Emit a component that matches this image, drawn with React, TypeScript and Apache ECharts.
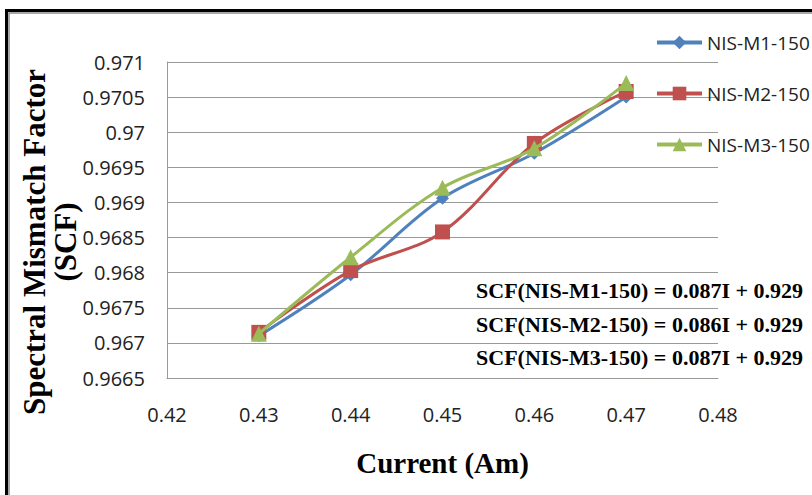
import React, { useEffect, useRef } from "react";
import * as echarts from "echarts";

const currents = [0.43, 0.44, 0.45, 0.46, 0.47];
const scfM1 = [0.9671, 0.96797, 0.96906, 0.9697, 0.9705];
const scfM2 = [0.96715, 0.96803, 0.96858, 0.96984, 0.97058];
const scfM3 = [0.96713, 0.96822, 0.96921, 0.96977, 0.9707];
const seriesNames = ["NIS-M1-150", "NIS-M2-150", "NIS-M3-150"];
const equations = [
  "SCF(NIS-M1-150) = 0.087I + 0.929",
  "SCF(NIS-M2-150) = 0.086I + 0.929",
  "SCF(NIS-M3-150) = 0.087I + 0.929",
];
const yTitle = "Spectral Mismatch Factor\n(SCF)";
const xTitle = "Current (Am)";

const colors = ["#4F81BD", "#C0504D", "#9BBB59"];
const symbols = ["diamond", "rect", "triangle"];
const symbolSizes = [13, 15, 16];

export default function App() {
  const ref = useRef<HTMLDivElement>(null);
  useEffect(() => {
    if (!ref.current) return;
    const chart = echarts.init(ref.current, undefined, { renderer: "svg" });
    const values = [scfM1, scfM2, scfM3];
    const eqY = [290, 324, 357];
    chart.setOption({
      animation: false,
      backgroundColor: "#ffffff",
      grid: { left: 167, right: 94, top: 62, bottom: 117, containLabel: false },
      legend: {
        orient: "vertical",
        left: 655,
        top: 33,
        padding: 0,
        itemWidth: 45,
        itemHeight: 17,
        itemGap: 32,
        lineStyle: { width: 4 },
        textStyle: { fontFamily: "Open Sans", fontSize: 19, color: "#222" },
        data: seriesNames,
      },
      xAxis: {
        type: "value",
        min: 0.42,
        max: 0.48,
        interval: 0.01,
        name: xTitle,
        nameLocation: "middle",
        nameGap: 70,
        nameTextStyle: {
          fontFamily: "Liberation Serif",
          fontWeight: "bold",
          fontSize: 29,
          color: "#000",
        },
        axisLine: { show: true, lineStyle: { color: "#999", width: 1 } },
        axisTick: { show: false },
        splitLine: { show: false },
        axisLabel: {
          margin: 26,
          fontFamily: "Open Sans",
          fontSize: 20,
          color: "#222",
          formatter: (v: number) => v.toFixed(2),
        },
      },
      yAxis: {
        type: "value",
        min: 0.9665,
        max: 0.971,
        interval: 0.0005,
        axisLine: { show: true, lineStyle: { color: "#999", width: 1 } },
        axisTick: { show: false },
        splitLine: { show: true, lineStyle: { color: "#999", width: 1 } },
        axisLabel: {
          margin: 22,
          fontFamily: "Open Sans",
          fontSize: 20,
          color: "#222",
          formatter: (v: number) => String(parseFloat(v.toFixed(4))),
        },
      },
      series: seriesNames.map((name, i) => ({
        name,
        type: "line",
        smooth: 0.35,
        data: currents.map((c, j) => [c, values[i][j]]),
        symbol: symbols[i],
        symbolSize: symbolSizes[i],
        lineStyle: { color: colors[i], width: 3 },
        itemStyle: { color: colors[i] },
        z: 2 + i,
      })),
      graphic: [
        {
          type: "rect",
          shape: { x: 6.5, y: 10.5, width: 900, height: 600 },
          style: { fill: "none", stroke: "#000", lineWidth: 3 },
          silent: true,
        },
        {
          type: "rect",
          shape: { x: 9, y: 13, width: 900, height: 600 },
          style: { fill: "none", stroke: "#8a8a8a", lineWidth: 1.5 },
          silent: true,
        },
        {
          type: "text",
          x: 50,
          y: 242,
          rotation: Math.PI / 2,
          style: {
            text: yTitle,
            align: "center",
            verticalAlign: "middle",
            fontFamily: "Liberation Serif",
            fontWeight: "bold",
            fontSize: 31,
            lineHeight: 31,
            fill: "#000",
          },
        },
        ...equations.map((t, i) => ({
          type: "text",
          x: 803,
          y: eqY[i],
          style: {
            text: t,
            align: "right",
            verticalAlign: "middle",
            fontFamily: "Liberation Serif",
            fontWeight: "bold",
            fontSize: 22,
            fill: "#000",
          },
        })),
      ],
    });
    return () => chart.dispose();
  }, []);
  return (
    <div
      ref={ref}
      style={{ position: "fixed", left: 0, top: 0, width: 812, height: 495 }}
    />
  );
}
